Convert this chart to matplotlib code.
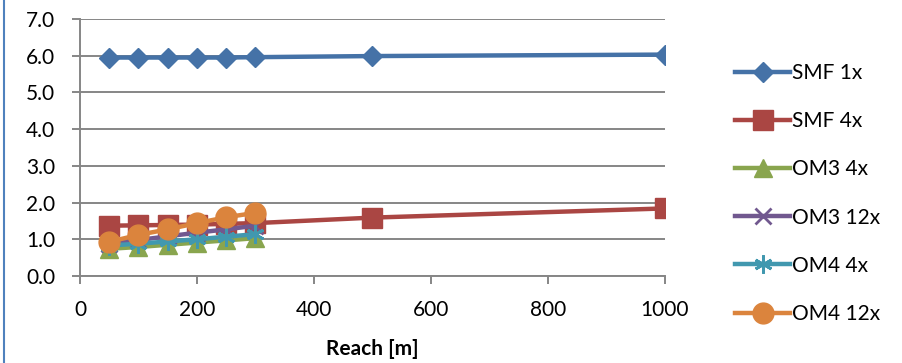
import matplotlib
matplotlib.use('Agg')
import matplotlib.pyplot as plt
from matplotlib.lines import Line2D

# Reach values (m) and measured values per configuration
reach_short = [50, 100, 150, 200, 250, 300]
reach_long = [50, 100, 150, 200, 250, 300, 500, 1000]

smf_1x = [5.95, 5.95, 5.95, 5.95, 5.95, 5.96, 5.99, 6.03]
smf_4x = [1.37, 1.38, 1.39, 1.40, 1.42, 1.44, 1.59, 1.84]
om3_4x = [0.74, 0.79, 0.85, 0.91, 0.97, 1.03]
om3_12x = [0.88, 0.98, 1.08, 1.18, 1.27, 1.37]
om4_4x = [0.83, 0.88, 0.94, 1.00, 1.07, 1.14]
om4_12x = [0.93, 1.12, 1.27, 1.44, 1.60, 1.72]

plt.rcParams['font.family'] = ['Lato', 'DejaVu Sans']

fig = plt.figure(figsize=(9.02, 3.63), dpi=100)
ax = fig.add_axes([0.0887, 0.2397, 0.737 - 0.0887, 0.9477 - 0.2397])

lw = 3.2
ax.plot(reach_long, smf_1x, color='#4572A7', lw=lw, marker='D', ms=10, label='SMF 1x', zorder=3)
ax.plot(reach_long, smf_4x, color='#AA4643', lw=lw, marker='s', ms=14, label='SMF 4x', zorder=3)
ax.plot(reach_short, om3_4x, color='#89A54E', lw=lw, marker='^', ms=13, label='OM3 4x', zorder=3)
ax.plot(reach_short, om3_12x, color='#71588F', lw=lw, marker='x', ms=12, mew=2, label='OM3 12x', zorder=3)
ax.plot(reach_short, om4_4x, color='#4198AF', lw=lw, marker=(6, 2, 0), ms=13, mew=2, label='OM4 4x', zorder=3)
ax.plot(reach_short, om4_12x, color='#DB843D', lw=lw, marker='o', ms=15, label='OM4 12x', zorder=3)

ax.set_xlim(0, 1000)
ax.set_ylim(0, 7)
ax.set_xticks(range(0, 1001, 200))
ax.set_yticks([i for i in range(8)])
ax.set_yticklabels(['%.1f' % i for i in range(8)])
ax.grid(axis='y', color='#868686', lw=1.4)
ax.set_axisbelow(True)

for s in ['top', 'right']:
    ax.spines[s].set_visible(False)
for s in ['left', 'bottom']:
    ax.spines[s].set_color('#868686')
    ax.spines[s].set_linewidth(1.4)
ax.tick_params(axis='both', colors='#868686', labelcolor='black', labelsize=15,
               length=6, width=1.4, direction='out')
ax.tick_params(axis='y', pad=12)
ax.tick_params(axis='x', pad=11)

ax.set_xlabel('Reach [m]', fontsize=15, fontweight='bold', labelpad=14)

ax.legend(loc='center left', bbox_to_anchor=(1.088, 0.321), frameon=False, fontsize=15,
          handlelength=2.65, labelspacing=1.35, handletextpad=0.1)

# blue chart border visible at the left edge
fig.add_artist(Line2D([4 / 902, 4 / 902], [0, 1], color='#4F81BD', lw=1.5))

fig.savefig('out.png', dpi=100)
